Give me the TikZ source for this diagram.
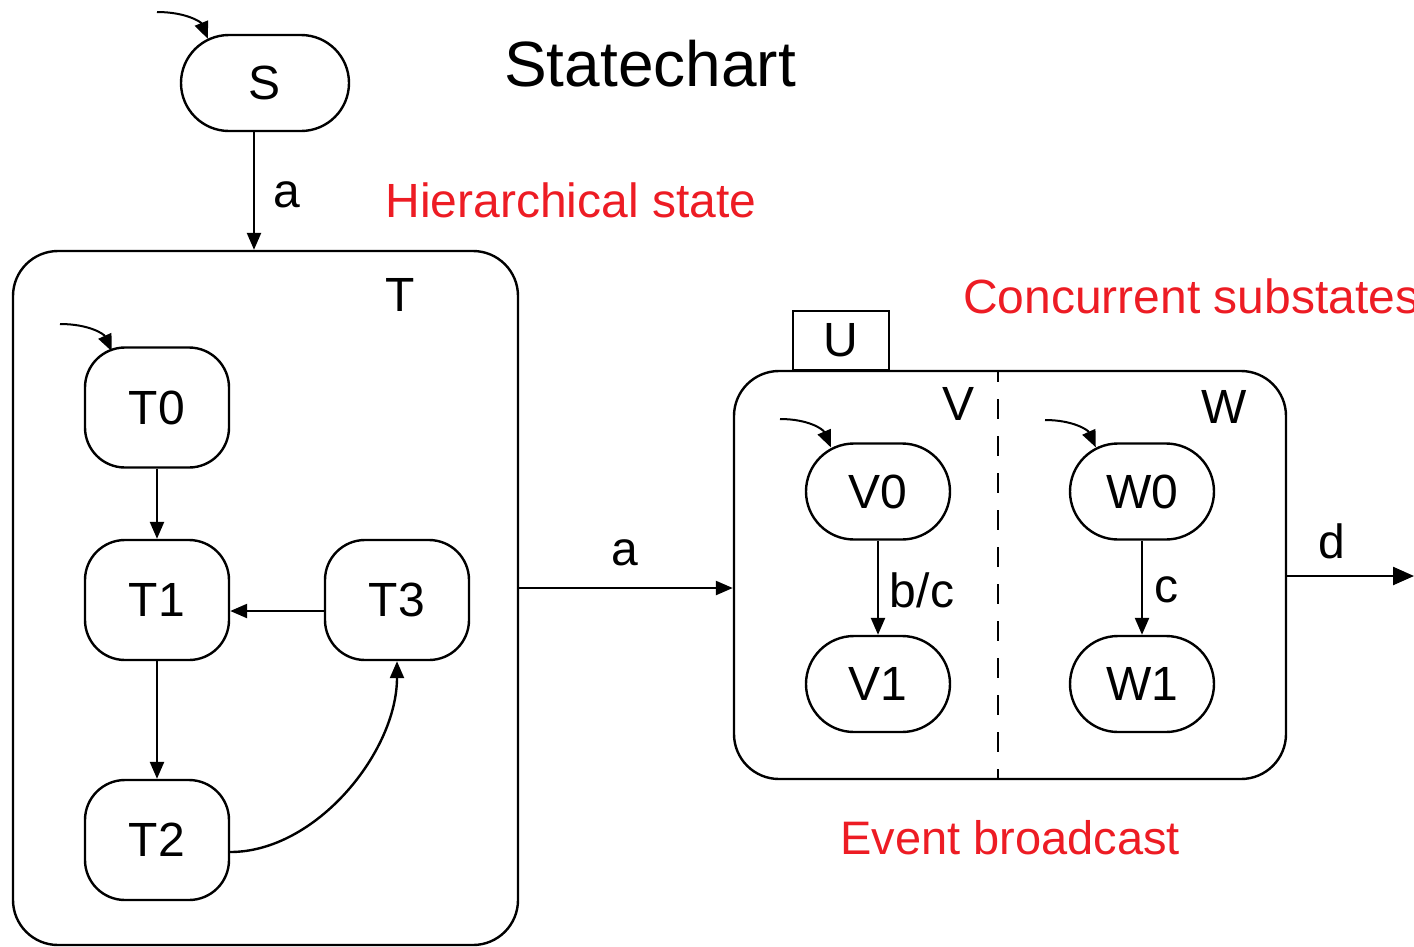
\documentclass[tikz,border=0pt]{standalone}
\usepackage{fontspec}
\setmainfont{Liberation Sans}
\usetikzlibrary{arrows.meta,calc}
\definecolor{labred}{RGB}{237,28,36}
\begin{document}
\begin{tikzpicture}[x=1pt,y=-1pt,
  line width=2.4pt,
  arr/.style={-{Triangle[length=17pt,width=14pt]}},
  bigarr/.style={-{Triangle[length=21pt,width=18pt]}},
  statebox/.style={draw,rounded corners=40pt,minimum width=144pt,minimum height=120pt,inner sep=0pt,font=\fontsize{48}{56}\selectfont},
  pill/.style={draw,rounded corners=48pt,minimum height=96pt,inner sep=0pt,font=\fontsize{48}{56}\selectfont},
  lbl/.style={inner sep=0pt,font=\fontsize{48}{56}\selectfont},
  redlbl/.style={inner sep=0pt,text=labred,font=\fontsize{48}{56}\selectfont}]
\useasboundingbox (0,0) rectangle (1414,946);

% title and notes
\node[inner sep=0pt,font=\fontsize{64}{72}\selectfont] (title) at (650,64) {Statechart};
\node[redlbl] (hier) at (571,200) {Hierarchical state};
\node[redlbl,anchor=west] (conc) at (962,296) {Concurrent substates};
\node[redlbl,font=\fontsize{47}{54}\selectfont] (event) at (1010,838) {Event broadcast};

% S
\node[pill,minimum width=168pt] (S) at (265,83) {S};
\coordinate (iS) at (157,12);
\draw[arr,line width=2pt] (iS) .. controls (186,12) and (201,22) .. ($(S.north west)+(28,5)$);

% T superstate
\node[draw,rounded corners=45pt,minimum width=505pt,minimum height=694pt,inner sep=0pt] (T) at (265.5,598) {};
\node[lbl] (Tl) at (400,295) {T};
\draw[arr] ([xshift=-11pt]S.south) -- ([xshift=-11pt]S.south |- T.north);
\node[lbl] (a1) at (287,195) {a};

\node[statebox] (T0) at (157,407.5) {T0};
\node[statebox] (T1) at (157,600) {T1};
\node[statebox] (T2) at (157,840) {T2};
\node[statebox] (T3) at (397,600) {T3};
\coordinate (iT) at (60,324);
\draw[arr,line width=2pt] (iT) .. controls (89,324) and (104,334) .. ($(T0.north west)+(28,5)$);
\draw[arr] (T0) -- (T1);
\draw[arr] (T1) -- (T2);
\draw[arr] ([yshift=-11pt]T3.west) -- ([yshift=-11pt]T1.east);
\draw[arr] ([yshift=-12pt]T2.east) .. controls (316,852) and (397,752) .. (T3.south);

% U / V / W
\node[draw,rounded corners=45pt,minimum width=552pt,minimum height=408pt,inner sep=0pt] (UV) at (1010,575) {};
\node[draw,minimum width=96pt,minimum height=59pt,inner sep=0pt,anchor=south,font=\fontsize{48}{56}\selectfont] (U) at (841,371) {U};
\coordinate (dtop) at (998,371);
\coordinate (dbot) at (998,779);
\draw[dash pattern=on 20pt off 17pt,dash phase=9pt] (dtop) -- (dbot);
\node[lbl] (Vl) at (958,404) {V};
\node[lbl] (Wl) at (1224,407) {W};

\coordinate (ya) at (0,588);
\draw[arr] (T.east |- ya) -- (UV.west |- ya);
\node[lbl] (a2) at (625,553) {a};

\node[pill,minimum width=144pt] (V0) at (878,491.5) {V0};
\node[pill,minimum width=144pt] (V1) at (878,684) {V1};
\node[pill,minimum width=144pt] (W0) at (1142,491.5) {W0};
\node[pill,minimum width=144pt] (W1) at (1142,684) {W1};
\coordinate (iV) at (780,419);
\coordinate (iW) at (1045,420);
\draw[arr,line width=2pt] (iV) .. controls (808,419) and (823,429) .. ($(V0.north west)+(26,5)$);
\draw[arr,line width=2pt] (iW) .. controls (1073,420) and (1088,430) .. ($(W0.north west)+(27,5)$);
\draw[arr] (V0) -- (V1);
\draw[arr] (W0) -- (W1);
\node[lbl] (bc) at (922,590) {b/c};
\node[lbl] (c) at (1166,590) {c};

\coordinate (yd) at (0,576);
\coordinate (dend) at (1414,576);
\draw[bigarr] (UV.east |- yd) -- (dend);
\node[lbl] (d) at (1332,541) {d};
\end{tikzpicture}
\end{document}
